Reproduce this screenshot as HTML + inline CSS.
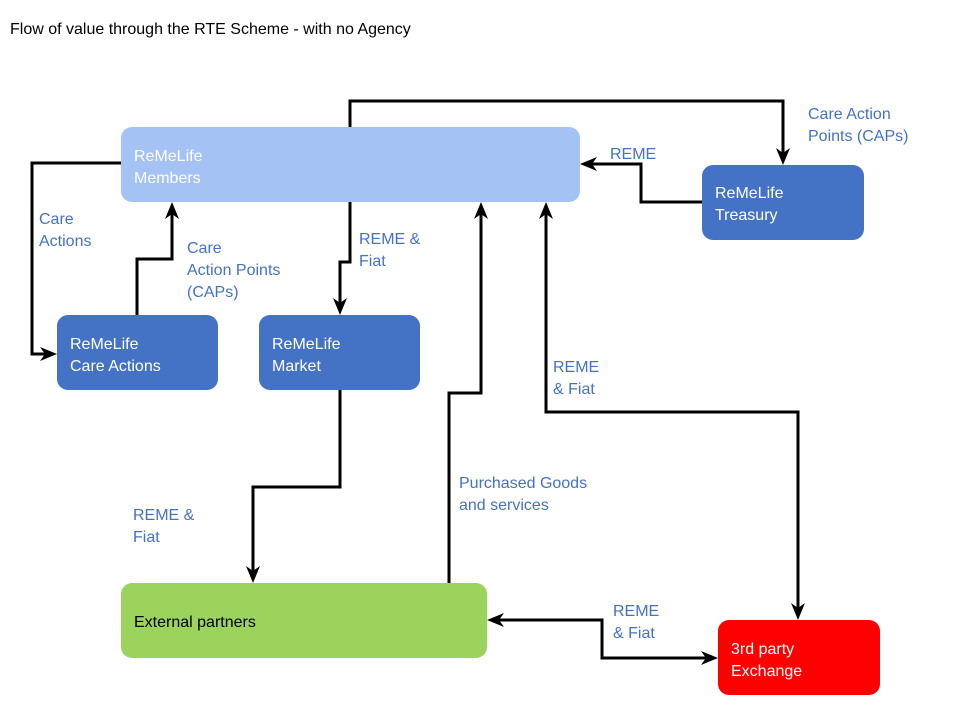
<!DOCTYPE html>
<html><head><meta charset="utf-8"><style>
body{margin:0;background:#fff;}
svg text{font-family:"Liberation Sans",sans-serif;font-size:16px;}
.l{fill:#4472c4;}
.w{fill:#fff;}
</style></head><body>
<svg width="960" height="720" viewBox="0 0 960 720" xmlns="http://www.w3.org/2000/svg">
<defs>
<marker id="a" viewBox="0 0 10 10" refX="9" refY="5" markerWidth="5" markerHeight="5" orient="auto-start-reverse" markerUnits="userSpaceOnUse">
</marker>
</defs>
<text x="10" y="34" fill="#000">Flow of value through the RTE Scheme - with no Agency</text>

<rect x="121" y="127" width="459" height="75" rx="11" fill="#a4c2f4"/>
<rect x="57" y="315" width="161" height="75" rx="11" fill="#4472c4"/>
<rect x="259" y="315" width="161" height="75" rx="11" fill="#4472c4"/>
<rect x="702" y="165" width="162" height="75" rx="11" fill="#4472c4"/>
<rect x="121" y="583" width="366" height="75" rx="11" fill="#9bd35d"/>
<rect x="718" y="620" width="162" height="75" rx="11" fill="#ff0000"/>

<g fill="none" stroke="#000" stroke-width="3">
<polyline points="350,127 350,101 783,101 783,160"/>
<polyline points="121,163 32,163 32,354 52,354"/>
<polyline points="137,315 137,259 172,259 172,207"/>
<polyline points="350,202 350,262 340,262 340,310"/>
<polyline points="340,390 340,487 253,487 253,578"/>
<polyline points="449,583 449,393 481,393 481,207"/>
<polyline points="702,202 641,202 641,164 585,164"/>
<polyline points="546,207 546,412 798,412 798,615"/>
<polyline points="492,620 602,620 602,658 713,658"/>
</g>
<g fill="#000">
<polygon points="783,165 776,148 783,153 790,148"/>
<polygon points="57,354 40,347 45,354 40,361"/>
<polygon points="172,202 165,219 172,214 179,219"/>
<polygon points="340,315 333,298 340,303 347,298"/>
<polygon points="253,583 246,566 253,571 260,566"/>
<polygon points="481,202 474,219 481,214 488,219"/>
<polygon points="580,164 597,157 592,164 597,171"/>
<polygon points="546,202 539,219 546,214 553,219"/>
<polygon points="798,620 791,603 798,608 805,603"/>
<polygon points="487,620 504,613 499,620 504,627"/>
<polygon points="718,658 701,651 706,658 701,665"/>
</g>

<text class="w" x="134" y="161">ReMeLife</text>
<text class="w" x="134" y="183">Members</text>
<text class="w" x="70" y="349">ReMeLife</text>
<text class="w" x="70" y="371">Care Actions</text>
<text class="w" x="272" y="349">ReMeLife</text>
<text class="w" x="272" y="371">Market</text>
<text class="w" x="715" y="198">ReMeLife</text>
<text class="w" x="715" y="220">Treasury</text>
<text x="134" y="627" fill="#000">External partners</text>
<text class="w" x="731" y="654">3rd party</text>
<text class="w" x="731" y="676">Exchange</text>

<text class="l" x="39" y="224">Care</text>
<text class="l" x="39" y="246">Actions</text>
<text class="l" x="187" y="253">Care</text>
<text class="l" x="187" y="275">Action Points</text>
<text class="l" x="187" y="297">(CAPs)</text>
<text class="l" x="359" y="244">REME &amp;</text>
<text class="l" x="359" y="266">Fiat</text>
<text class="l" x="610" y="159">REME</text>
<text class="l" x="808" y="119">Care Action</text>
<text class="l" x="808" y="141">Points (CAPs)</text>
<text class="l" x="553" y="372">REME</text>
<text class="l" x="553" y="394">&amp; Fiat</text>
<text class="l" x="133" y="520">REME &amp;</text>
<text class="l" x="133" y="542">Fiat</text>
<text class="l" x="459" y="488">Purchased Goods</text>
<text class="l" x="459" y="510">and services</text>
<text class="l" x="613" y="616">REME</text>
<text class="l" x="613" y="638">&amp; Fiat</text>
</svg>
</body></html>
